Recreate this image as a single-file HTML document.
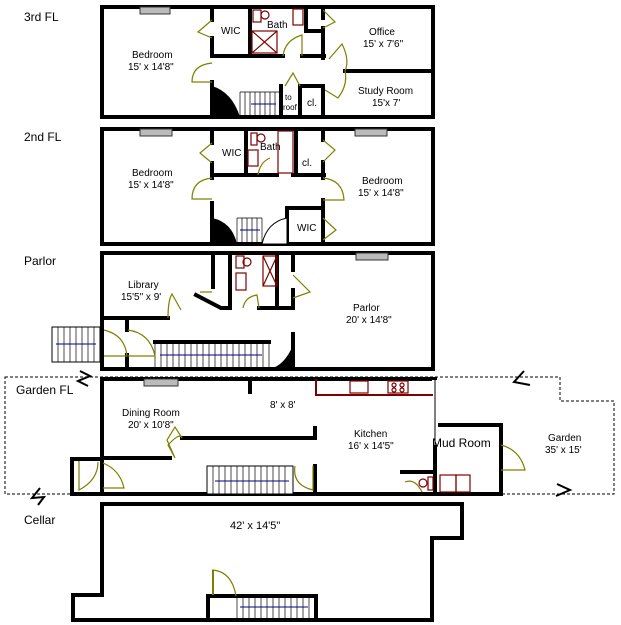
<!DOCTYPE html>
<html><head><style>
html,body{margin:0;padding:0;background:#fff;}
svg{display:block;}
text{font-family:"Liberation Sans",Arial,sans-serif;font-size:10px;fill:#000;}
.fl{font-size:12px;}
.w{stroke:#000;stroke-width:4;fill:none;stroke-linecap:square;}
.d{stroke:#808000;stroke-width:1.2;fill:none;}
.f{stroke:#800000;stroke-width:1.2;fill:none;}
.t{stroke:#000;stroke-width:0.7;}
.ar{stroke:#00008b;stroke-width:1;}
.fp{fill:#bbb;stroke:#333;stroke-width:1;}
</style></head><body>
<svg width="621" height="625" viewBox="0 0 621 625" xmlns="http://www.w3.org/2000/svg">
<!-- floor labels -->
<text class="fl" x="24" y="21">3rd FL</text>
<text class="fl" x="24" y="141">2nd FL</text>
<text class="fl" x="24" y="265">Parlor</text>
<text class="fl" x="16" y="394">Garden FL</text>
<text class="fl" x="24" y="524">Cellar</text>

<!-- ===== 3rd FL ===== -->
<rect class="w" x="102" y="7" width="331" height="110"/>
<rect class="fp" x="140" y="7" width="30" height="7"/>
<path class="w" d="M212 7V20 M212 38V56 M212 82V117 M212 56H283 M302 56H324 M250 7V56 M306 7V31H321 M323 7V18 M323 28V58 M345 71H433 M323 86V117 M300 86H323 M300 86V117 M281 86V117"/>
<!-- stairs -->
<path d="M212 86 Q232 92 240 117 L212 117 Z" fill="#000"/>
<g class="t"><line x1="240" y1="92" x2="240" y2="117"/><line x1="245" y1="92" x2="245" y2="117"/><line x1="250" y1="92" x2="250" y2="117"/><line x1="255" y1="92" x2="255" y2="117"/><line x1="260" y1="92" x2="260" y2="117"/><line x1="265" y1="92" x2="265" y2="117"/><line x1="270" y1="92" x2="270" y2="117"/><line x1="275" y1="92" x2="275" y2="117"/><line x1="240" y1="92" x2="280" y2="92"/></g>
<line class="ar" x1="251" y1="104" x2="276" y2="104"/>
<!-- fixtures -->
<rect class="f" x="253" y="10" width="8" height="12"/><circle class="f" cx="265" cy="15" r="4"/>
<rect class="f" x="293" y="9" width="10" height="16"/>
<rect class="f" x="252" y="31" width="25" height="22"/><path class="f" d="M252 31L277 53M277 31L252 53"/>
<!-- doors -->
<path class="d" d="M212 20 L198 32 L212 38 M212 63 Q192 65 192 82 L212 82 M283 56 Q285 40 302 35 L302 56 M323 10 L335 22 L323 28 M329 59 L342 44 Q350 60 345 71 M300 86 L293 73 L285 86 M325 90 L338 98 Q348 85 345 71"/>
<text x="221" y="34">WIC</text>
<text x="267" y="28">Bath</text>
<text x="132" y="58">Bedroom</text>
<text x="128" y="70">15' x 14'8"</text>
<text x="369" y="35">Office</text>
<text x="363" y="47">15' x 7'6"</text>
<text x="358" y="94">Study Room</text>
<text x="372" y="106">15'x 7'</text>
<text x="307" y="106">cl.</text>
<text x="285" y="100" style="font-size:8px">to</text>
<text x="283" y="110" style="font-size:8px">roof</text>

<!-- ===== 2nd FL ===== -->
<rect class="w" x="102" y="129" width="331" height="115"/>
<rect class="fp" x="140" y="129" width="32" height="7"/>
<rect class="fp" x="355" y="129" width="32" height="7"/>
<path class="w" d="M212 129V143 M212 163V178 M212 203V244 M212 175H277 M293 175H324 M246 129V175 M296 129V175 M323 129V140 M323 162V178 M323 200V244 M287 208H323 M287 208V244"/>
<path d="M212 218 Q232 222 237 244 L212 244 Z" fill="#000"/>
<path d="M287 218 Q267 222 262 244 L287 244 Z" fill="#fff" stroke="#000"/>
<g class="t"><line x1="237" y1="218" x2="262" y2="218"/><line x1="237" y1="218" x2="237" y2="244"/><line x1="242" y1="218" x2="242" y2="244"/><line x1="247" y1="218" x2="247" y2="244"/><line x1="252" y1="218" x2="252" y2="244"/><line x1="257" y1="218" x2="257" y2="244"/><line x1="262" y1="218" x2="262" y2="244"/></g>
<line class="ar" x1="240" y1="230" x2="260" y2="230"/>
<rect class="f" x="251" y="133" width="6" height="12"/><circle class="f" cx="261" cy="138" r="4"/>
<rect class="f" x="248" y="150" width="10" height="16"/>
<rect class="f" x="278" y="131" width="15" height="42"/>
<path class="d" d="M212 143 L200 153 L212 163 M212 178 Q192 180 192 199 L212 199 M258 175 Q260 162 270 158 M323 140 L335 150 L323 162 M323 178 Q343 180 344 200 L323 200 M323 218 L336 230 L323 240"/>
<text x="222" y="156">WIC</text>
<text x="260" y="150">Bath</text>
<text x="132" y="176">Bedroom</text>
<text x="128" y="188">15' x 14'8"</text>
<text x="302" y="166">cl.</text>
<text x="362" y="184">Bedroom</text>
<text x="358" y="196">15' x 14'8"</text>
<text x="297" y="231">WIC</text>

<!-- ===== Parlor ===== -->
<rect class="w" x="102" y="253" width="331" height="116"/>
<rect class="fp" x="356" y="253" width="32" height="7"/>
<path class="w" d="M213 253V287 M196 295 L221 308 H230 M230 253V308 M259 308H293 M277 253V308 M293 253V270 M293 290V308 M293 334V369 M102 318H168 M127 318V330 M127 355V369 M155 342H269"/>
<!-- outside stairs -->
<rect x="52" y="327" width="48" height="35" fill="#fff" stroke="#000" stroke-width="1"/>
<g class="t"><line x1="58" y1="327" x2="58" y2="362"/><line x1="64" y1="327" x2="64" y2="362"/><line x1="70" y1="327" x2="70" y2="362"/><line x1="76" y1="327" x2="76" y2="362"/><line x1="82" y1="327" x2="82" y2="362"/><line x1="88" y1="327" x2="88" y2="362"/><line x1="94" y1="327" x2="94" y2="362"/></g>
<line class="ar" x1="56" y1="344" x2="96" y2="344"/>
<!-- parlor stairs -->
<g class="t"><line x1="155" y1="344" x2="155" y2="369"/><line x1="161" y1="344" x2="161" y2="369"/><line x1="167" y1="344" x2="167" y2="369"/><line x1="173" y1="344" x2="173" y2="369"/><line x1="179" y1="344" x2="179" y2="369"/><line x1="185" y1="344" x2="185" y2="369"/><line x1="191" y1="344" x2="191" y2="369"/><line x1="197" y1="344" x2="197" y2="369"/><line x1="203" y1="344" x2="203" y2="369"/><line x1="209" y1="344" x2="209" y2="369"/><line x1="215" y1="344" x2="215" y2="369"/><line x1="221" y1="344" x2="221" y2="369"/><line x1="227" y1="344" x2="227" y2="369"/><line x1="233" y1="344" x2="233" y2="369"/><line x1="239" y1="344" x2="239" y2="369"/><line x1="245" y1="344" x2="245" y2="369"/><line x1="251" y1="344" x2="251" y2="369"/><line x1="257" y1="344" x2="257" y2="369"/><line x1="263" y1="344" x2="263" y2="369"/><line x1="269" y1="344" x2="269" y2="369"/></g>
<line class="ar" x1="160" y1="355" x2="262" y2="355"/>
<path d="M293 345 Q285 365 270 369 L293 369 Z" fill="#000"/>
<rect class="f" x="236" y="256" width="8" height="12"/><circle class="f" cx="247" cy="262" r="4"/>
<rect class="f" x="236" y="273" width="10" height="17"/>
<rect class="f" x="263" y="256" width="14" height="30"/><path class="f" d="M263 256L277 286M277 256L263 286"/>
<path class="d" d="M168 318 Q168 300 172 294 L181 310 M200 292 L212 292 M243 308 Q245 297 257 295 L259 308 M293 275 L310 292 L293 298 M104 330 Q125 335 127 356 L104 356 M128 330 Q150 333 155 356 L128 356"/>
<text x="128" y="288">Library</text>
<text x="121" y="300">15'5" x 9'</text>
<text x="353" y="311">Parlor</text>
<text x="346" y="323">20' x 14'8"</text>

<!-- ===== Garden FL ===== -->
<path d="M5 377H560V401H614V494H5Z" fill="none" stroke="#000" stroke-width="1" stroke-dasharray="3,2"/>
<rect x="102" y="379" width="333" height="115" fill="#fff"/>
<path class="w" d="M102 379H435V494H102Z M250 379V392 M182 438H315 M315 428V438 M102 458H170 M315 466V494 M435 425H501V494H435 M402 472H435V494 M72 459H102 M72 459V494H102"/>
<rect x="432" y="380" width="6" height="65" fill="#fff"/>
<line x1="435" y1="380" x2="435" y2="445" stroke="#000" stroke-width="1"/>
<rect class="fp" x="144" y="379" width="34" height="7"/>
<!-- counter -->
<path d="M316 379V395H433" fill="none" stroke="#800000" stroke-width="2"/>
<rect class="f" x="350" y="381" width="18" height="12"/><rect class="f" x="388" y="381" width="20" height="12"/>
<circle class="f" cx="394" cy="385" r="2"/><circle class="f" cx="402" cy="385" r="2"/><circle class="f" cx="394" cy="390" r="2"/><circle class="f" cx="402" cy="390" r="2"/>
<!-- stairs -->
<rect x="207" y="466" width="86" height="28" fill="#fff" stroke="#000" stroke-width="1"/>
<g class="t"><line x1="213" y1="466" x2="213" y2="494"/><line x1="219" y1="466" x2="219" y2="494"/><line x1="225" y1="466" x2="225" y2="494"/><line x1="231" y1="466" x2="231" y2="494"/><line x1="237" y1="466" x2="237" y2="494"/><line x1="243" y1="466" x2="243" y2="494"/><line x1="249" y1="466" x2="249" y2="494"/><line x1="255" y1="466" x2="255" y2="494"/><line x1="261" y1="466" x2="261" y2="494"/><line x1="267" y1="466" x2="267" y2="494"/><line x1="273" y1="466" x2="273" y2="494"/><line x1="279" y1="466" x2="279" y2="494"/><line x1="285" y1="466" x2="285" y2="494"/></g>
<line class="ar" x1="215" y1="481" x2="289" y2="481"/>
<rect class="f" x="440" y="475" width="16" height="17"/><rect class="f" x="456" y="475" width="14" height="17"/>
<circle class="f" cx="423" cy="483" r="4"/><rect class="f" x="428" y="477" width="5" height="13"/>
<path class="d" d="M182 438 L175 427 L167 440 L175 458 L168 445 Q180 432 182 438 M79 461 V490 Q98 480 98 462 M103 463 Q120 470 124 488 L103 488 M295 466 Q292 485 313 490 L313 466 M501 445 Q520 450 525 470 L501 470 M405 482 Q415 478 422 492"/>
<text x="122" y="416">Dining Room</text>
<text x="128" y="428">20' x 10'8"</text>
<text x="270" y="408">8' x 8'</text>
<text x="354" y="437">Kitchen</text>
<text x="348" y="449">16' x 14'5"</text>
<text x="432" y="447" style="font-size:12px">Mud Room</text>
<text x="548" y="441">Garden</text>
<text x="545" y="453">35' x 15'</text>
<!-- break marks -->
<path d="M80 371 L90 376 L78 381 L88 386" fill="none" stroke="#000" stroke-width="2"/>
<path d="M524 371 L514 382 L530 385" fill="none" stroke="#000" stroke-width="2"/>
<path d="M40 488 L32 498 L44 497 L38 505" fill="none" stroke="#000" stroke-width="2"/>
<path d="M557 484 L570 490 L556 496" fill="none" stroke="#000" stroke-width="2"/>

<!-- ===== Cellar ===== -->
<path class="w" d="M102 504H462V538H432V620H73V595H102Z"/>
<path class="w" d="M208 620V596H316V620"/>
<g class="t"><line x1="237" y1="598" x2="237" y2="620"/><line x1="243" y1="598" x2="243" y2="620"/><line x1="249" y1="598" x2="249" y2="620"/><line x1="255" y1="598" x2="255" y2="620"/><line x1="261" y1="598" x2="261" y2="620"/><line x1="267" y1="598" x2="267" y2="620"/><line x1="273" y1="598" x2="273" y2="620"/><line x1="279" y1="598" x2="279" y2="620"/><line x1="285" y1="598" x2="285" y2="620"/><line x1="291" y1="598" x2="291" y2="620"/><line x1="297" y1="598" x2="297" y2="620"/><line x1="303" y1="598" x2="303" y2="620"/><line x1="309" y1="598" x2="309" y2="620"/></g>
<line class="ar" x1="240" y1="607" x2="308" y2="607"/>
<path d="M213 595 V570 Q232 572 236 596" fill="none" stroke="#808000" stroke-width="1.2"/>
<line x1="213" y1="570" x2="213" y2="595" stroke="#808000" stroke-width="2"/>
<text x="230" y="529" style="font-size:11px">42' x 14'5"</text>
</svg>
</body></html>
